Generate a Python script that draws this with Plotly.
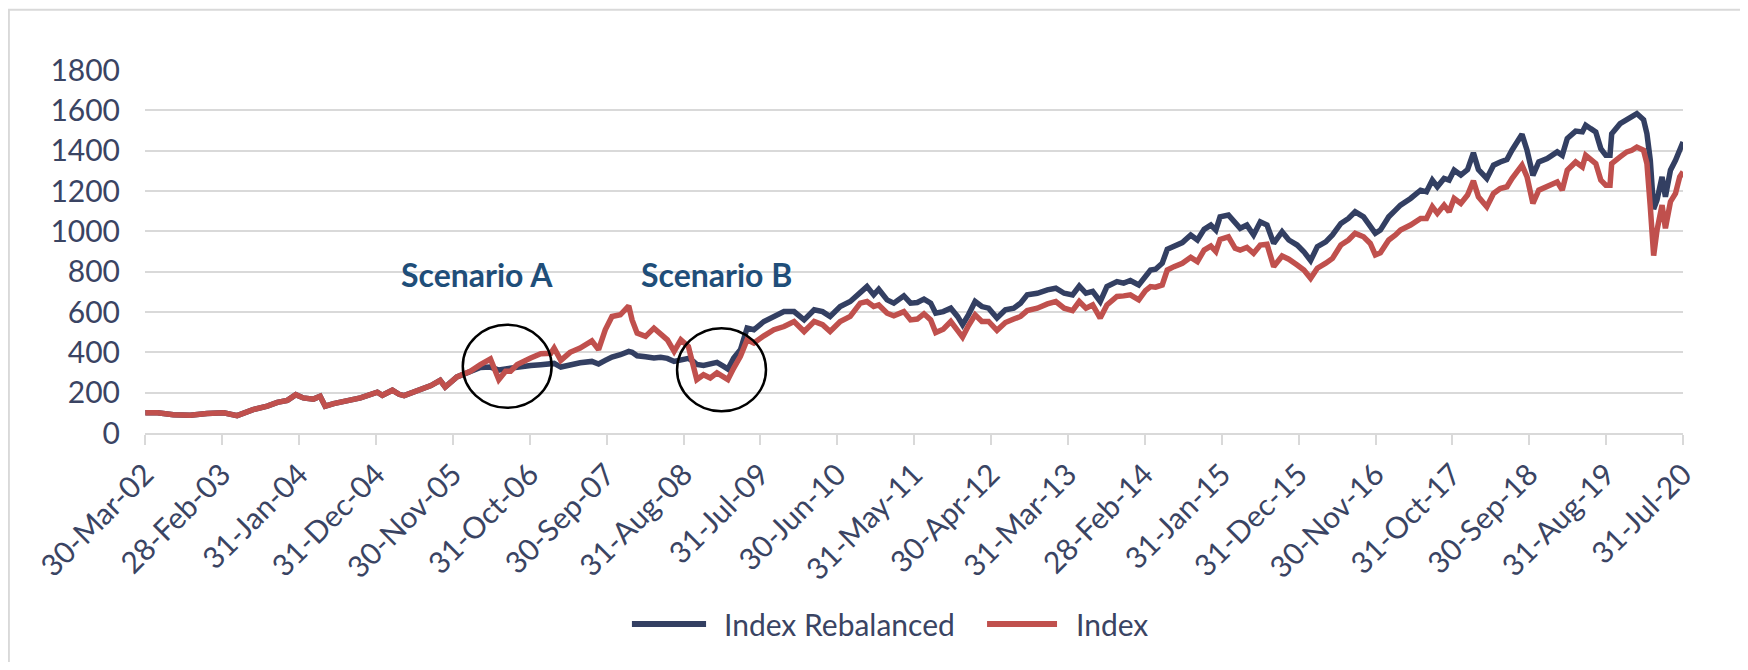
import datetime as dt
import plotly.graph_objects as go

# ---------------- data ----------------
years = [
    2002.245, 2002.39, 2002.58, 2002.78, 2002.98, 2003.18, 2003.34, 2003.53, 2003.70, 2003.82,
    2003.94, 2004.04, 2004.13, 2004.25, 2004.33, 2004.39, 2004.49, 2004.65, 2004.81, 2005.01,
    2005.07, 2005.19, 2005.27, 2005.33, 2005.49, 2005.65, 2005.76, 2005.82, 2005.96, 2006.12,
    2006.24, 2006.36, 2006.46, 2006.54, 2006.60, 2006.68, 2006.84, 2006.96, 2007.08, 2007.12,
    2007.20, 2007.31, 2007.43, 2007.57, 2007.65, 2007.73, 2007.81, 2007.91, 2008.01, 2008.05,
    2008.11, 2008.21, 2008.31, 2008.39, 2008.47, 2008.55, 2008.63, 2008.72, 2008.78, 2008.82,
    2008.90, 2008.98, 2009.06, 2009.14, 2009.19, 2009.26, 2009.34, 2009.42, 2009.50, 2009.62,
    2009.74, 2009.86, 2009.98, 2010.10, 2010.22, 2010.32, 2010.41, 2010.53, 2010.65, 2010.77,
    2010.85, 2010.93, 2010.99, 2011.09, 2011.17, 2011.29, 2011.37, 2011.45, 2011.53, 2011.61,
    2011.67, 2011.76, 2011.85, 2011.93, 2011.99, 2012.06, 2012.14, 2012.22, 2012.30, 2012.40,
    2012.50, 2012.60, 2012.68, 2012.76, 2012.88, 2013.00, 2013.10, 2013.20, 2013.30, 2013.38,
    2013.46, 2013.54, 2013.63, 2013.71, 2013.83, 2013.91, 2013.99, 2014.09, 2014.17, 2014.23,
    2014.29, 2014.37, 2014.43, 2014.51, 2014.61, 2014.71, 2014.79, 2014.87, 2014.95, 2015.01,
    2015.06, 2015.16, 2015.24, 2015.30, 2015.38, 2015.46, 2015.54, 2015.62, 2015.70, 2015.80,
    2015.88, 2015.98, 2016.06, 2016.14, 2016.22, 2016.32, 2016.40, 2016.50, 2016.59, 2016.67,
    2016.77, 2016.85, 2016.91, 2016.97, 2017.07, 2017.15, 2017.21, 2017.33, 2017.45, 2017.52,
    2017.59, 2017.65, 2017.73, 2017.79, 2017.85, 2017.93, 2018.01, 2018.08, 2018.14, 2018.24,
    2018.32, 2018.40, 2018.48, 2018.54, 2018.60, 2018.66, 2018.72, 2018.79, 2018.86, 2018.96,
    2019.08, 2019.14, 2019.20, 2019.30, 2019.38, 2019.42, 2019.48, 2019.54, 2019.60, 2019.66,
    2019.71, 2019.73, 2019.83, 2019.91, 2019.97, 2020.03, 2020.11, 2020.15, 2020.19, 2020.23,
    2020.27, 2020.33, 2020.37, 2020.43, 2020.49, 2020.54, 2020.58,
]

index_rebalanced = [
    100, 100, 91, 88, 97, 100, 86, 116, 133, 152,
    162, 190, 174, 168, 182, 133, 146, 162, 174, 202,
    187, 212, 192, 185, 212, 235, 261, 228, 278, 304,
    325, 327, 312, 318, 322, 328, 335, 339, 347, 345,
    327, 338, 348, 355, 342, 360, 377, 388, 405, 400,
    383, 378, 372, 375, 370, 355, 365, 370, 355, 340,
    335, 345, 350, 330, 317, 372, 413, 520, 512, 553,
    578, 602, 602, 561, 611, 602, 578, 627, 652, 701,
    726, 685, 713, 660, 644, 680, 644, 647, 664, 644,
    594, 602, 619, 578, 537, 586, 652, 627, 619, 570,
    611, 619, 644, 685, 693, 710, 718, 693, 685, 729,
    693, 702, 652, 726, 751, 743, 756, 734, 775, 808,
    812, 842, 911, 927, 944, 982, 957, 1010, 1031, 1006,
    1072, 1081, 1039, 1015, 1031, 982, 1047, 1031, 940, 998,
    957, 932, 899, 855, 924, 948, 982, 1039, 1064, 1097,
    1072, 1023, 990, 1006, 1072, 1105, 1130, 1163, 1204, 1196,
    1254, 1221, 1262, 1254, 1303, 1279, 1306, 1389, 1306, 1262,
    1328, 1344, 1356, 1402, 1443, 1481, 1402, 1278, 1344, 1361,
    1394, 1377, 1460, 1497, 1493, 1526, 1509, 1493, 1410, 1377,
    1377, 1484, 1534, 1554, 1567, 1584, 1554, 1484, 1352, 1110,
    1155, 1270, 1171, 1303, 1352, 1410, 1443,
]

index_values = [
    100, 100, 91, 88, 97, 100, 86, 116, 133, 152,
    162, 190, 174, 168, 182, 133, 146, 162, 174, 202,
    187, 212, 192, 185, 212, 235, 261, 228, 278, 306,
    339, 367, 265, 306, 306, 339, 372, 393, 395, 421,
    360, 400, 421, 457, 413, 512, 578, 586, 630, 561,
    495, 479, 520, 487, 462, 405, 462, 429, 330, 265,
    289, 273, 298, 281, 265, 322, 380, 462, 446, 482,
    512, 528, 553, 503, 553, 537, 503, 553, 578, 644,
    652, 627, 635, 594, 581, 602, 561, 565, 591, 561,
    498, 515, 553, 509, 476, 532, 586, 553, 553, 509,
    548, 565, 578, 607, 619, 640, 652, 619, 607, 652,
    619, 635, 570, 635, 677, 680, 685, 660, 706, 726,
    723, 734, 808, 825, 842, 871, 850, 907, 927, 900,
    960, 973, 916, 907, 920, 891, 932, 936, 825, 878,
    862, 833, 808, 767, 817, 842, 866, 932, 957, 990,
    973, 940, 883, 894, 957, 982, 1006, 1031, 1064, 1064,
    1122, 1089, 1130, 1097, 1163, 1138, 1180, 1250, 1171, 1122,
    1188, 1212, 1221, 1262, 1295, 1328, 1270, 1138, 1204, 1221,
    1245, 1204, 1303, 1344, 1319, 1377, 1352, 1336, 1254, 1229,
    1229, 1336, 1369, 1394, 1402, 1418, 1402, 1336, 1122, 880,
    1006, 1130, 1015, 1147, 1188, 1270, 1295,
]

tick_dates = [
    "2002-03-30", "2003-02-28", "2004-01-31", "2004-12-31", "2005-11-30", "2006-10-31",
    "2007-09-30", "2008-08-31", "2009-07-31", "2010-06-30", "2011-05-31", "2012-04-30",
    "2013-03-31", "2014-02-28", "2015-01-31", "2015-12-31", "2016-11-30", "2017-10-31",
    "2018-09-30", "2019-08-31", "2020-07-31",
]
tick_labels = [
    "30-Mar-02", "28-Feb-03", "31-Jan-04", "31-Dec-04", "30-Nov-05", "31-Oct-06",
    "30-Sep-07", "31-Aug-08", "31-Jul-09", "30-Jun-10", "31-May-11", "30-Apr-12",
    "31-Mar-13", "28-Feb-14", "31-Jan-15", "31-Dec-15", "30-Nov-16", "31-Oct-17",
    "30-Sep-18", "31-Aug-19", "31-Jul-20",
]

series_names = ["Index Rebalanced", "Index"]
scenario_labels = ["Scenario A", "Scenario B"]
scenario_centres = [2006.56, 2009.115]   # decimal years of the circled periods
scenario_levels = [331, 314]             # index level at circle centres
scenario_text_years = [2006.20, 2009.05]
scenario_text_level = 785


def dec_to_date(y):
    yr = int(y)
    start = dt.datetime(yr, 1, 1)
    end = dt.datetime(yr + 1, 1, 1)
    return start + (end - start) * (y - yr)


dates = [dec_to_date(y) for y in years]

BLUE = "#333F62"
RED = "#C0504D"
TEXT = "#3A4463"
GRID = "#D9D9D9"
FONT = "Lato"

fig = go.Figure()
fig.add_trace(go.Scatter(x=dates, y=index_rebalanced, mode="lines", name=series_names[0],
                         line=dict(color=BLUE, width=5.5), showlegend=False))
fig.add_trace(go.Scatter(x=dates, y=index_values, mode="lines", name=series_names[1],
                         line=dict(color=RED, width=5.5), showlegend=False))

shapes = []
# circles around the scenarios (data coordinates)
half_w_years = 0.53
half_h_level = 206
for cx, cy in zip(scenario_centres, scenario_levels):
    shapes.append(dict(type="circle", xref="x", yref="y",
                       x0=dec_to_date(cx - half_w_years), x1=dec_to_date(cx + half_w_years),
                       y0=cy - half_h_level, y1=cy + half_h_level,
                       line=dict(color="black", width=2.5)))

# chart-area border (left and top edges visible, right/bottom run off the page)
shapes.append(dict(type="rect", xref="paper", yref="paper", x0=-0.0885, x1=1.3, y0=-0.9, y1=1.166,
                   line=dict(color=GRID, width=2), layer="below"))

# custom legend (long line samples as in the reference)
leg_y = -0.526
shapes.append(dict(type="line", xref="paper", yref="paper", x0=0.3166, x1=0.3648, y0=leg_y, y1=leg_y,
                   line=dict(color=BLUE, width=6)))
shapes.append(dict(type="line", xref="paper", yref="paper", x0=0.5475, x1=0.593, y0=leg_y, y1=leg_y,
                   line=dict(color=RED, width=6)))

annotations = []
for lbl, xy in zip(scenario_labels, scenario_text_years):
    annotations.append(dict(x=dec_to_date(xy), y=scenario_text_level, xref="x", yref="y",
                            text=f"<b>{lbl}</b>", showarrow=False,
                            font=dict(family=FONT, size=32, color="#1F4E79")))
annotations.append(dict(x=0.3752, y=leg_y, xref="paper", yref="paper", text=series_names[0],
                        showarrow=False, xanchor="left", yanchor="middle",
                        font=dict(family=FONT, size=30, color=TEXT)))
annotations.append(dict(x=0.604, y=leg_y, xref="paper", yref="paper", text=series_names[1],
                        showarrow=False, xanchor="left", yanchor="middle",
                        font=dict(family=FONT, size=30, color=TEXT)))

# page body has an 8px margin: size the figure so it exactly fills the window
fig.update_layout(
    width=1732, height=654,
    margin=dict(l=137, r=57, t=61.5, b=228.5, autoexpand=False),
    paper_bgcolor="white", plot_bgcolor="white",
    font=dict(family=FONT, color=TEXT),
    shapes=shapes, annotations=annotations,
    showlegend=False,
)
fig.update_xaxes(
    type="date", range=["2002-03-30", "2020-07-31"],
    tickmode="array", tickvals=tick_dates, ticktext=tick_labels, tickangle=-45,
    tickfont=dict(family=FONT, size=30, color=TEXT),
    showgrid=False, showline=True, linecolor=GRID, linewidth=1.5,
    ticks="outside", ticklen=10, tickwidth=1.5, tickcolor=GRID,
)
fig.update_yaxes(
    range=[0, 1800], dtick=200, tick0=0,
    tickfont=dict(family=FONT, size=30, color=TEXT),
    showgrid=True, gridcolor=GRID, gridwidth=1.5, zeroline=False, showline=False,
    ticklabelstandoff=24,
)

fig.write_html("out.html")
